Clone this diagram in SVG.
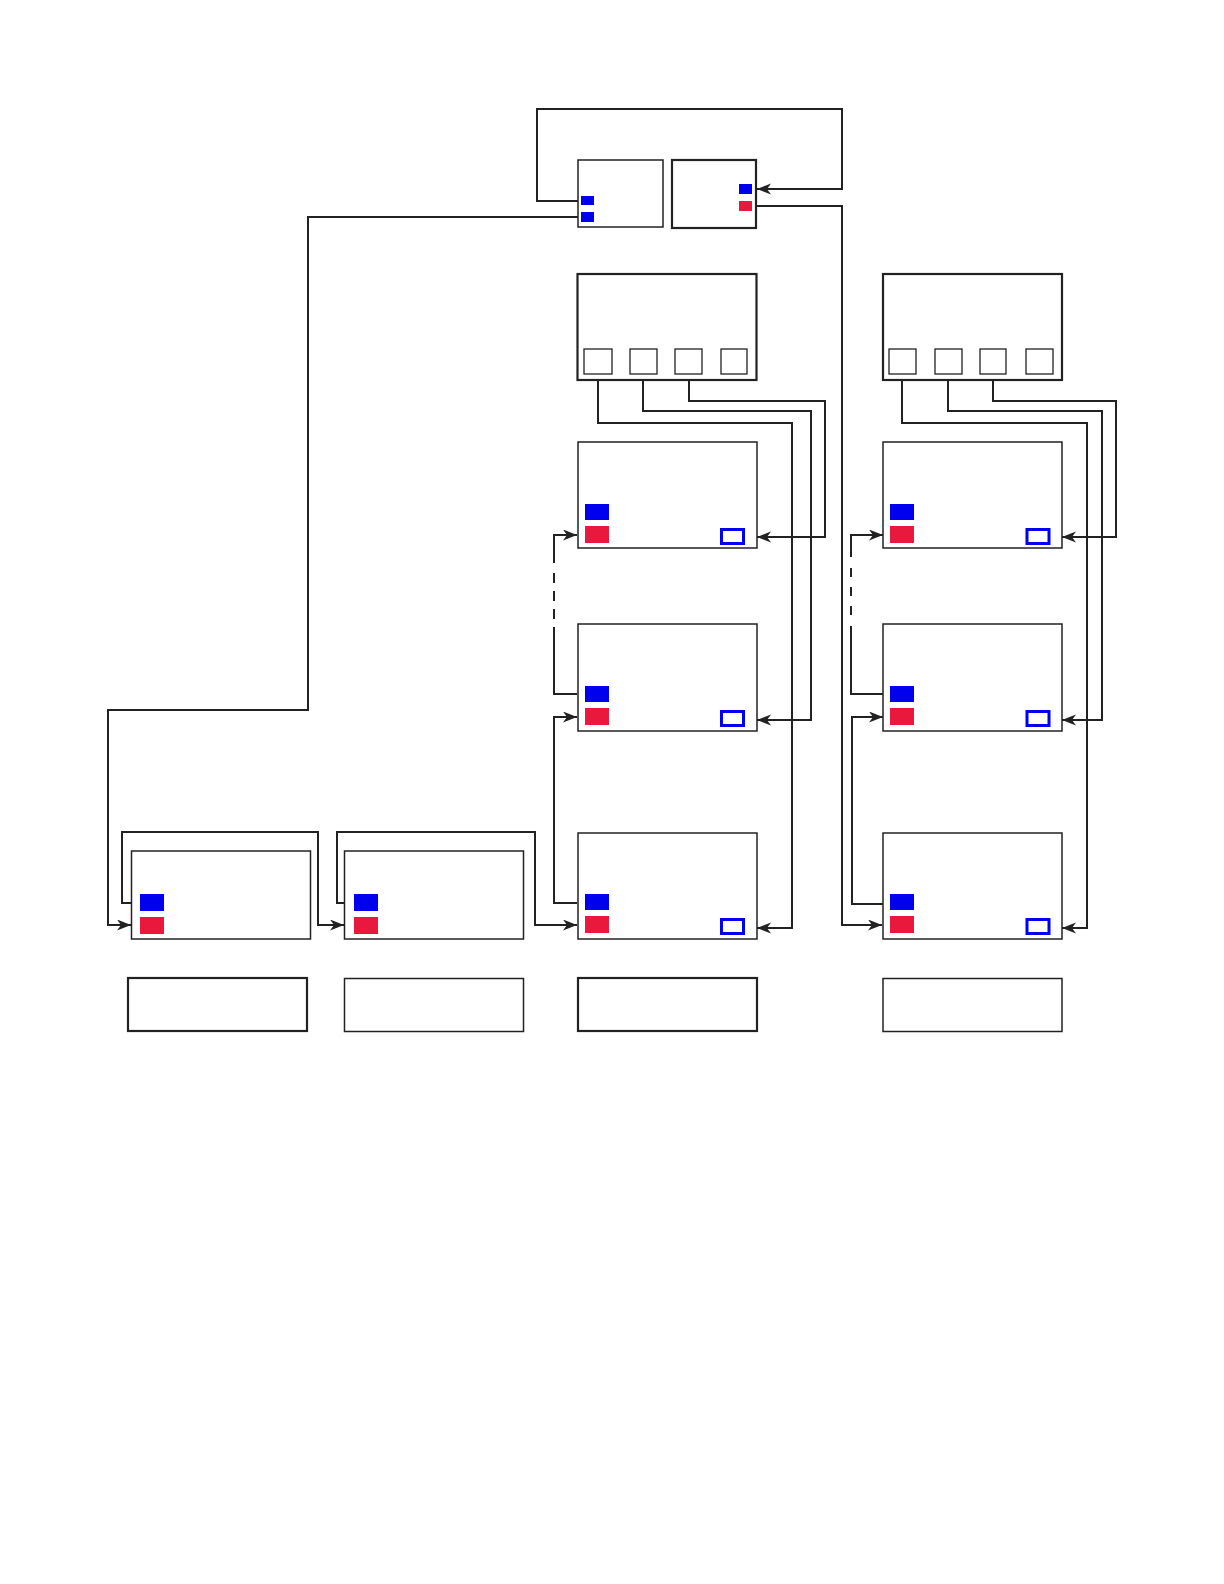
<svg xmlns="http://www.w3.org/2000/svg" width="1224" height="1584" viewBox="0 0 1224 1584">
<style>
.box{fill:#fff;stroke:#222;stroke-width:1.5}
.thick{stroke-width:2.2}
.port{fill:#fff;stroke:#222;stroke-width:1.3}
.b{fill:#0000ee}
.r{fill:#e8193c}
.o{fill:none;stroke:#0000ee;stroke-width:3}
.c{fill:none;stroke:#222;stroke-width:2}
.a{marker-end:url(#arr)}
</style>
<defs>
<marker id="arr" markerUnits="userSpaceOnUse" markerWidth="16" markerHeight="12" refX="14" refY="5.5" orient="auto">
<path d="M0,0 L14,5.5 L0,11 L4,5.5 z" fill="#222"/>
</marker>
</defs>
<rect width="1224" height="1584" fill="#fff"/>
<g id="connectors">
<path class="c a" d="M578,201 H537 V109 H842 V189 H757"/>
<path class="c a" d="M578,217 H308 V710 H108 V925 H131"/>
<path class="c a" d="M756,206 H842 V925 H882"/>
<path class="c a" d="M598,374 V423 H792 V928 H757"/>
<path class="c a" d="M643,374 V411 H811 V720 H757"/>
<path class="c a" d="M689,374 V401 H825 V537 H757"/>
<path class="c a" d="M902,374 V423 H1087 V928 H1062"/>
<path class="c a" d="M948,374 V411 H1102 V720 H1062"/>
<path class="c a" d="M993,374 V401 H1116 V537 H1062"/>
<path class="c a" d="M131,903 H122 V832 H318 V925 H344"/>
<path class="c a" d="M344,903 H337 V832 H535 V925 H577"/>
<path class="c a" d="M577,903 H554 V717 H577"/>
<path class="c" d="M577,694 H554 V627"/>
<path class="c" d="M554,619 V609 M554,601 V591 M554,583 V573"/>
<path class="c a" d="M554,563 V535 H577"/>
<path class="c a" d="M883,904 H852 V717 H883"/>
<path class="c" d="M890,694 H851 V626"/>
<path class="c" d="M851,615 V606 M851,596 V587 M851,577 V568"/>
<path class="c a" d="M851,557 V535 H883"/>
</g>
<g id="top-left">
<rect class="box" x="578" y="160" width="85" height="67"/>
<rect class="b" x="581" y="196" width="13" height="9"/>
<rect class="b" x="581" y="212" width="13" height="10"/>
</g>
<g id="top-right">
<rect class="box thick" x="672" y="160" width="84" height="68"/>
<rect class="b" x="739" y="184" width="13" height="10"/>
<rect class="r" x="739" y="201" width="13" height="10"/>
</g>
<g id="ctrl-3">
<rect class="box thick" x="577.5" y="274" width="179" height="106"/>
<rect class="port" x="584" y="349" width="28" height="25"/>
<rect class="port" x="630" y="349" width="27" height="25"/>
<rect class="port" x="675" y="349" width="27" height="25"/>
<rect class="port" x="721" y="349" width="26" height="25"/>
</g>
<g id="ctrl-4">
<rect class="box thick" x="883" y="274" width="179" height="106"/>
<rect class="port" x="889" y="349" width="27" height="25"/>
<rect class="port" x="935" y="349" width="27" height="25"/>
<rect class="port" x="980" y="349" width="26" height="25"/>
<rect class="port" x="1026" y="349" width="27" height="25"/>
</g>
<g id="c3-a">
<rect class="box" x="578" y="442" width="179" height="106"/>
<rect class="b" x="585" y="504" width="24" height="16"/>
<rect class="r" x="585" y="526" width="24" height="17"/>
<rect class="o" x="721.5" y="529.5" width="22" height="14"/>
</g>
<g id="c3-b">
<rect class="box" x="578" y="624" width="179" height="107"/>
<rect class="b" x="585" y="686" width="24" height="16"/>
<rect class="r" x="585" y="708" width="24" height="17"/>
<rect class="o" x="721.5" y="711.5" width="22" height="14"/>
</g>
<g id="c3-c">
<rect class="box" x="578" y="833" width="179" height="106"/>
<rect class="b" x="585" y="894" width="24" height="16"/>
<rect class="r" x="585" y="916" width="24" height="17"/>
<rect class="o" x="721.5" y="919.5" width="22" height="14"/>
</g>
<g id="c4-a">
<rect class="box" x="883" y="442" width="179" height="106"/>
<rect class="b" x="890" y="504" width="24" height="16"/>
<rect class="r" x="890" y="526" width="24" height="17"/>
<rect class="o" x="1027" y="529.5" width="22" height="14"/>
</g>
<g id="c4-b">
<rect class="box" x="883" y="624" width="179" height="107"/>
<rect class="b" x="890" y="686" width="24" height="16"/>
<rect class="r" x="890" y="708" width="24" height="17"/>
<rect class="o" x="1027" y="711.5" width="22" height="14"/>
</g>
<g id="c4-c">
<rect class="box" x="883" y="833" width="179" height="106"/>
<rect class="b" x="890" y="894" width="24" height="16"/>
<rect class="r" x="890" y="916" width="24" height="17"/>
<rect class="o" x="1027" y="919.5" width="22" height="14"/>
</g>
<g id="c1">
<rect class="box" x="131.5" y="851" width="179" height="88"/>
<rect class="b" x="140" y="894" width="24" height="17"/>
<rect class="r" x="140" y="917" width="24" height="17"/>
</g>
<g id="c2">
<rect class="box" x="344.5" y="851" width="179" height="88"/>
<rect class="b" x="354" y="894" width="24" height="17"/>
<rect class="r" x="354" y="917" width="24" height="17"/>
</g>
<g id="bottom-1"><rect class="box thick" x="128" y="978" width="179" height="53"/></g>
<g id="bottom-2"><rect class="box" x="344.5" y="978.5" width="179" height="53"/></g>
<g id="bottom-3"><rect class="box thick" x="578" y="978" width="179" height="53"/></g>
<g id="bottom-4"><rect class="box" x="883" y="978.5" width="179" height="53"/></g>
</svg>
